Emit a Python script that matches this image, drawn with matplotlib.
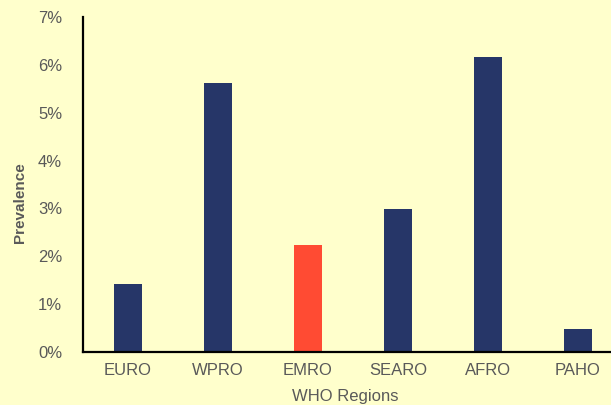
import matplotlib.pyplot as plt

regions = ["EURO", "WPRO", "EMRO", "SEARO", "AFRO", "PAHO"]
prevalence = [1.42, 5.62, 2.24, 2.99, 6.16, 0.48]
highlight = "EMRO"

BG = "#FFFFCC"
NAVY = "#263668"
RED = "#FF4B33"
GREY = "#595959"

plt.rcParams["font.family"] = ["Liberation Sans", "DejaVu Sans"]

fig = plt.figure(figsize=(6.11, 4.05), dpi=100)
fig.patch.set_facecolor(BG)
ax = fig.add_axes([0.1358, 0.1309, 0.8838, 0.827])
ax.set_facecolor(BG)

colors = [RED if r == highlight else NAVY for r in regions]
ax.bar(range(len(regions)), prevalence, width=0.31, color=colors, zorder=2)

ax.set_xlim(-0.5, len(regions) - 0.5)
ax.set_ylim(0, 7)
ax.set_yticks(range(0, 8))
ax.set_yticklabels([f"{i}%" for i in range(0, 8)])
ax.set_xticks(range(len(regions)))
ax.set_xticklabels(regions)

for s in ("top", "right"):
    ax.spines[s].set_visible(False)
for s in ("left", "bottom"):
    ax.spines[s].set_linewidth(1.6)
    ax.spines[s].set_color("black")

ax.tick_params(axis="both", length=0, labelsize=12, colors=GREY)
ax.tick_params(axis="y", pad=15)
ax.tick_params(axis="x", pad=8)

ax.set_ylabel("Prevalence", fontsize=11, fontweight="bold", color=GREY)
ax.yaxis.set_label_coords(-0.104, 0.445)
ax.set_xlabel("WHO Regions", fontsize=12, color=GREY)
ax.xaxis.set_label_coords(0.485, -0.112)

fig.savefig("out.png", dpi=100, facecolor=BG)
